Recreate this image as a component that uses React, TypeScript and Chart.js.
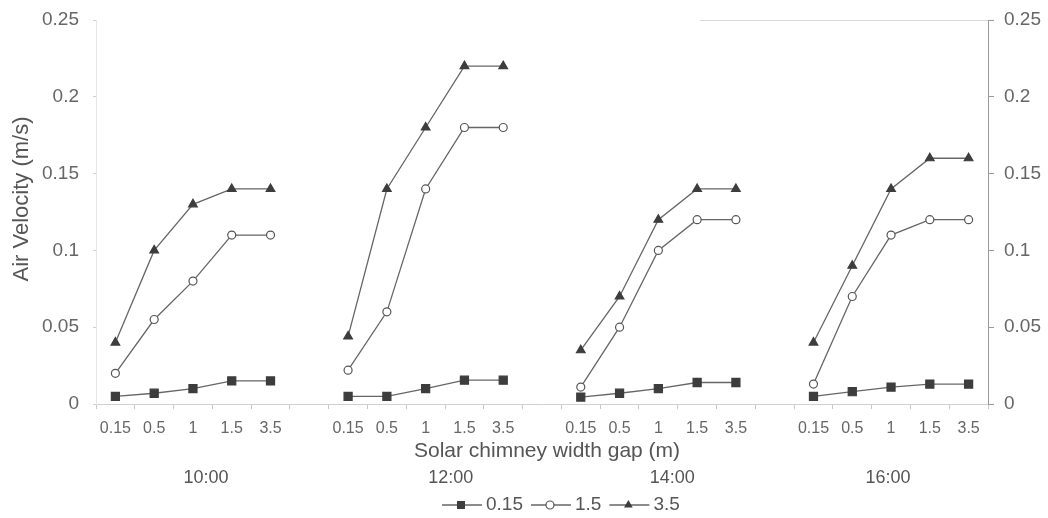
import { useEffect, useRef } from 'react';
import { Chart, registerables } from 'chart.js';

Chart.register(...registerables);

const FONT = "'Liberation Sans', Arial, sans-serif";

// x categories within each time group (m)
const gapLabels = ['0.15', '0.5', '1', '1.5', '3.5'];
// time groups
const timeLabels = ['10:00', '12:00', '14:00', '16:00'];
// legend series names
const seriesNames = ['0.15', '1.5', '3.5'];

// Air velocity (m/s), one inner array per time group
const series015 = [
  [0.005, 0.007, 0.01, 0.015, 0.015],
  [0.005, 0.005, 0.01, 0.0155, 0.0155],
  [0.0045, 0.007, 0.01, 0.014, 0.014],
  [0.005, 0.008, 0.011, 0.013, 0.013],
];
const series15 = [
  [0.02, 0.055, 0.08, 0.11, 0.11],
  [0.022, 0.06, 0.14, 0.18, 0.18],
  [0.011, 0.05, 0.1, 0.12, 0.12],
  [0.013, 0.07, 0.11, 0.12, 0.12],
];
const series35 = [
  [0.04, 0.1, 0.13, 0.14, 0.14],
  [0.044, 0.14, 0.18, 0.22, 0.22],
  [0.035, 0.07, 0.12, 0.14, 0.14],
  [0.04, 0.09, 0.14, 0.16, 0.16],
];

const yTicks = [0, 0.05, 0.1, 0.15, 0.2, 0.25];

function buildLabels(): string[] {
  const out: string[] = [];
  timeLabels.forEach((_, g) => {
    if (g > 0) out.push('');
    gapLabels.forEach((l) => out.push(l));
  });
  return out;
}

function flatten(groups: number[][]): (number | null)[] {
  const out: (number | null)[] = [];
  groups.forEach((grp, g) => {
    if (g > 0) out.push(null);
    grp.forEach((v) => out.push(v));
  });
  return out;
}

const LINE = '#666';
const MARK = '#3d3d3d';
const TEXT = '#666';
const TITLE = '#555';

function drawMarker(ctx: CanvasRenderingContext2D, style: string, x: number, y: number) {
  ctx.save();
  ctx.lineWidth = 1.2;
  ctx.strokeStyle = MARK;
  ctx.fillStyle = MARK;
  ctx.beginPath();
  if (style === 'rect') {
    ctx.rect(x - 4, y - 4, 8, 8);
    ctx.fill();
  } else if (style === 'circle') {
    ctx.fillStyle = '#fff';
    ctx.strokeStyle = '#555';
    ctx.arc(x, y, 4, 0, Math.PI * 2);
    ctx.fill();
    ctx.stroke();
  } else {
    const r = 5;
    ctx.moveTo(x, y - r);
    ctx.lineTo(x + r * Math.sin((2 * Math.PI) / 3), y + r / 2);
    ctx.lineTo(x - r * Math.sin((2 * Math.PI) / 3), y + r / 2);
    ctx.closePath();
    ctx.fill();
  }
  ctx.restore();
}

const decorPlugin = {
  id: 'decor',
  afterDraw(chart: any) {
    const ctx: CanvasRenderingContext2D = chart.ctx;
    const area = chart.chartArea;
    const xs = chart.scales.x;
    ctx.save();

    // partial top border
    ctx.strokeStyle = '#d8d8d8';
    ctx.lineWidth = 1;
    ctx.beginPath();
    ctx.moveTo(700, area.top + 0.5);
    ctx.lineTo(area.right, area.top + 0.5);
    ctx.stroke();

    // y title
    ctx.fillStyle = TITLE;
    ctx.font = `22px ${FONT}`;
    ctx.textAlign = 'center';
    ctx.textBaseline = 'middle';
    ctx.save();
    ctx.translate(22, 199);
    ctx.rotate(-Math.PI / 2);
    ctx.fillText('Air Velocity (m/s)', 0, 0);
    ctx.restore();

    // x title
    ctx.font = `21px ${FONT}`;
    ctx.fillText('Solar chimney width gap (m)', (area.left + area.right) / 2 + 5, 451);

    // group labels
    const offs = [13, 25, 14, -3];
    ctx.font = `18px ${FONT}`;
    timeLabels.forEach((t, g) => {
      const idx = g * (gapLabels.length + 1) + 2;
      ctx.fillText(t, xs.getPixelForValue(idx) + offs[g], 478);
    });

    // legend
    const styles = ['rect', 'circle', 'triangle'];
    ctx.font = `19px ${FONT}`;
    ctx.textAlign = 'left';
    let x = 442;
    const y = 505;
    seriesNames.forEach((name, i) => {
      ctx.strokeStyle = LINE;
      ctx.lineWidth = 1.3;
      ctx.beginPath();
      ctx.moveTo(x, y);
      ctx.lineTo(x + 40, y);
      ctx.stroke();
      drawMarker(ctx, styles[i], x + 19, y);
      ctx.fillStyle = TITLE;
      ctx.fillText(name, x + 44, y);
      x += 44 + ctx.measureText(name).width + 8;
    });
    ctx.restore();
  },
};

export default function App() {
  const ref = useRef<HTMLCanvasElement>(null);

  useEffect(() => {
    document.body.style.margin = '0';
    if (!ref.current) return;
    const labels = buildLabels();
    const common = {
      borderColor: LINE,
      borderWidth: 1.3,
      spanGaps: false,
      tension: 0,
      pointBorderWidth: 1.2,
    };
    const fitY = (w: number) => (s: any) => {
      s.width = w;
      s.paddingTop = 0;
      s.paddingBottom = 0;
    };
    const chart = new Chart(ref.current, {
      type: 'line',
      data: {
        labels,
        datasets: [
          {
            ...common,
            label: seriesNames[0],
            data: flatten(series015),
            pointStyle: 'rect',
            pointRadius: 5.7,
            pointBackgroundColor: MARK,
            pointBorderColor: MARK,
          },
          {
            ...common,
            label: seriesNames[1],
            data: flatten(series15),
            pointStyle: 'circle',
            pointRadius: 4,
            pointBackgroundColor: '#fff',
            pointBorderColor: '#555',
          },
          {
            ...common,
            label: seriesNames[2],
            data: flatten(series35),
            pointStyle: 'triangle',
            pointRadius: 5,
            pointBackgroundColor: MARK,
            pointBorderColor: MARK,
          },
        ],
      },
      options: {
        responsive: false,
        animation: false,
        layout: { padding: { top: 20, left: 0, right: 0, bottom: 0 } },
        plugins: {
          legend: { display: false },
          tooltip: { enabled: false },
        },
        scales: {
          x: {
            type: 'category',
            offset: true,
            grid: {
              display: true,
              drawOnChartArea: false,
              offset: true,
              tickLength: 5,
              color: '#c8c8c8',
            },
            border: { display: true, color: '#d0d0d0' },
            ticks: {
              color: TEXT,
              font: { size: 16, family: FONT },
              padding: 10,
              maxRotation: 0,
              autoSkip: false,
            },
            afterFit: (s: any) => {
              s.height = 114;
              s.paddingLeft = 0;
              s.paddingRight = 0;
            },
          },
          y: {
            position: 'left',
            min: 0,
            max: 0.25,
            afterBuildTicks: (s: any) => {
              s.ticks = yTicks.map((v) => ({ value: v }));
            },
            ticks: {
              color: TEXT,
              font: { size: 19, family: FONT },
              padding: 14,
              callback: (v: any) => String(Number(Number(v).toFixed(2))),
            },
            grid: { drawOnChartArea: false, tickLength: 3, color: '#d0d0d0' },
            border: { color: '#e6e6e6', dash: [2, 4] },
            afterFit: fitY(96),
          },
          y2: {
            position: 'right',
            min: 0,
            max: 0.25,
            afterBuildTicks: (s: any) => {
              s.ticks = yTicks.map((v) => ({ value: v }));
            },
            ticks: {
              color: TEXT,
              font: { size: 19, family: FONT },
              padding: 10,
              callback: (v: any) => String(Number(Number(v).toFixed(2))),
            },
            grid: { drawOnChartArea: false, tickLength: 6, color: '#999' },
            border: { color: '#999' },
            afterFit: fitY(60),
          },
        },
      },
      plugins: [decorPlugin],
    } as any);
    return () => chart.destroy();
  }, []);

  return (
    <div style={{ width: 1048, height: 518, background: '#fff' }}>
      <canvas ref={ref} width={1048} height={518} />
    </div>
  );
}
